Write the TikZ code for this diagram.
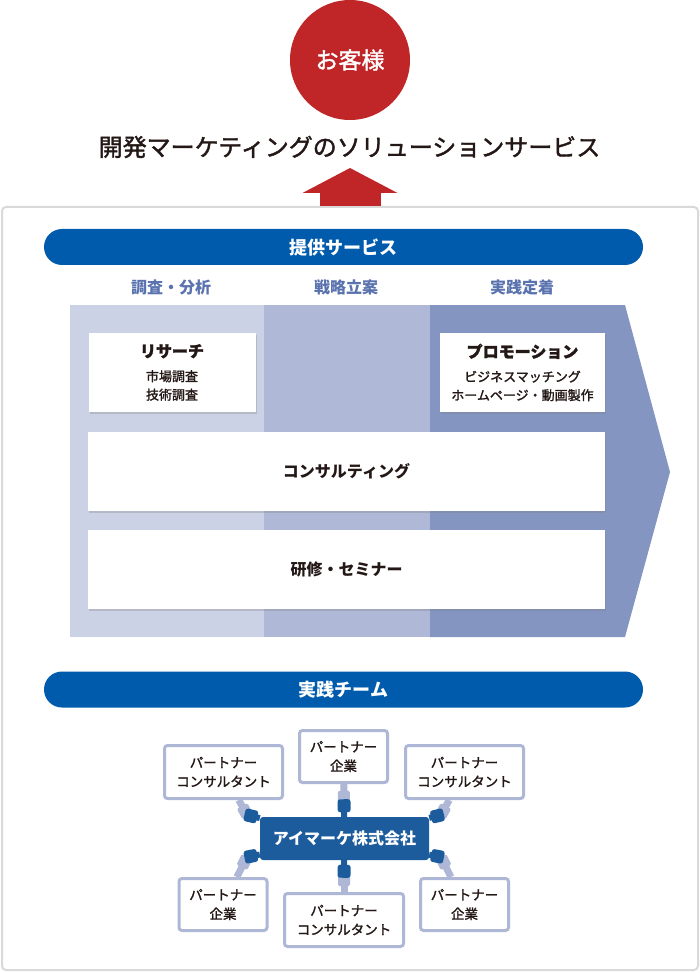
\documentclass[tikz,border=0pt]{standalone}
\usepackage{fontspec}
\setmainfont{Noto Sans CJK JP}
\newfontfamily\midfont{Noto Sans CJK JP}[FakeBold=1.6]
\usetikzlibrary{arrows.meta,shadows}

\definecolor{kyakuRed}{RGB}{192,37,39}
\definecolor{pillBlue}{RGB}{0,91,172}
\definecolor{headBlue}{RGB}{90,115,175}
\definecolor{phaseA}{RGB}{204,210,230}
\definecolor{phaseB}{RGB}{175,184,214}
\definecolor{phaseC}{RGB}{132,149,194}
\definecolor{hubBlue}{RGB}{29,92,156}
\definecolor{linkGray}{RGB}{174,183,214}
\definecolor{frameGray}{RGB}{217,217,217}
\definecolor{inkBlack}{RGB}{35,24,21}

\tikzset{
  pill/.style={rectangle, rounded corners=18pt, fill=pillBlue, text=white, minimum width=599pt, minimum height=36pt, font=\bfseries\fontsize{18}{20}\selectfont},
  phase/.style={text=headBlue, font=\bfseries\fontsize{16}{18}\selectfont},
  service/.style={rectangle, fill=white, align=center, text=inkBlack, drop shadow={shadow xshift=1.2pt, shadow yshift=-1.6pt, opacity=.3}, font=\midfont\fontsize{13}{18.5}\selectfont},
  partner/.style={rectangle, draw=linkGray, line width=3pt, rounded corners=3pt, fill=white, align=center, text=inkBlack, font=\midfont\fontsize{13.5}{19}\selectfont},
  lstem/.style={draw=linkGray, line width=7pt},
  bstem/.style={draw=hubBlue, line width=6pt},
  lplug/.style={rectangle, fill=linkGray, minimum size=12pt, inner sep=0pt, rounded corners=1.5pt},
  bplug/.style={rectangle, fill=hubBlue, minimum size=13pt, inner sep=0pt, rounded corners=2.5pt},
}

\begin{document}
\begin{tikzpicture}[x=1pt,y=-1pt]
    \useasboundingbox (0,0) rectangle (700,973);

    %Place customer node
    \node[circle, fill=kyakuRed, minimum size=120pt, inner sep=0pt, text=white, font=\midfont\fontsize{23}{25}\selectfont] (customer) at (350,60) {お客様};

    %Place title node
    \node[text=inkBlack, font=\midfont\fontsize{24}{26}\selectfont] (title) at (349.5,147) {開発マーケティングのソリューションサービス};

    %Place panel node
    \node[draw=frameGray, line width=2pt, rounded corners=4pt, fill=white, minimum width=696pt, minimum height=763pt] (panel) at (350,588.5) {};

    %Draw big arrow
    \coordinate (arrow-tip) at (350,168);
    \draw[-{Triangle[width=94pt,length=25pt]}, line width=61pt, draw=kyakuRed] (panel.north) -- (arrow-tip);

    %Place service bar node
    \node[pill] (service-bar) at (343.5,247) {提供サービス};

    %Place phase heading nodes
    \node[phase] (research-head) at (171,287) {調査・分析};
    \node[phase] (plan-head) at (346,287) {戦略立案};
    \node[phase] (practice-head) at (522,287) {実践定着};

    %Draw phase bands
    \fill[phaseA] (70,305) rectangle (264,637);
    \fill[phaseB] (264,305) rectangle (430,637);
    \fill[phaseC] (430,305) -- (625,305) -- (670,472) -- (625,637) -- (430,637) -- cycle;

    %Place research node
    \node[service, minimum width=167pt, minimum height=79pt] (research) at (172,372.5) {{\bfseries\fontsize{16}{18.5}\selectfont リサーチ}\\[5.5pt]市場調査\\技術調査};

    %Place promotion node
    \node[service, minimum width=165pt, minimum height=79pt] (promotion) at (522.5,372.5) {{\bfseries\fontsize{16}{18.5}\selectfont プロモーション}\\[5.5pt]ビジネスマッチング\\ホームページ・動画製作};

    %Place consulting node
    \node[service, minimum width=517pt, minimum height=79pt, font=\bfseries\fontsize{16}{18}\selectfont] (consulting) at (346.5,471.5) {コンサルティング};

    %Place seminar node
    \node[service, minimum width=517pt, minimum height=79pt, font=\bfseries\fontsize{16}{18}\selectfont] (seminar) at (346.5,569.5) {研修・セミナー};

    %Place team bar node
    \node[pill] (team-bar) at (343.5,689.5) {実践チーム};

    %Place hub node
    \node[rectangle, fill=hubBlue, rounded corners=3pt, minimum width=169pt, minimum height=43pt, text=white, font=\bfseries\fontsize{16}{18}\selectfont] (hub) at (344.5,838.5) {アイマーケ株式会社};

    %Place partner nodes
    \node[partner, minimum width=118pt, minimum height=53pt] (consultant-nw) at (223.5,772) {パートナー\\コンサルタント};
    \node[partner, minimum width=88pt, minimum height=52pt] (company-n) at (343.5,756.5) {パートナー\\企業};
    \node[partner, minimum width=118pt, minimum height=53pt] (consultant-ne) at (464.5,772) {パートナー\\コンサルタント};
    \node[partner, minimum width=88pt, minimum height=52pt] (company-sw) at (223,904.5) {パートナー\\企業};
    \node[partner, minimum width=119pt, minimum height=53pt] (consultant-s) at (344,920) {パートナー\\コンサルタント};
    \node[partner, minimum width=88pt, minimum height=52pt] (company-se) at (464.5,904.5) {パートナー\\企業};

    %Place joint coordinates
    \coordinate (joint-nw) at (247,815);
    \coordinate (joint-n) at (344,801);
    \coordinate (joint-ne) at (441,815);
    \coordinate (joint-sw) at (247,857);
    \coordinate (joint-s) at (344,876);
    \coordinate (joint-se) at (441,857);

    %Draw links
    \draw[lstem] (consultant-nw) -- (joint-nw) node[lplug, pos=.75, sloped] {};
    \draw[bstem] (joint-nw) -- (hub) node[bplug, pos=.3, sloped] {};
    \draw[lstem] (company-n) -- (joint-n) node[lplug, pos=.75, sloped] {};
    \draw[bstem] (joint-n) -- (hub) node[bplug, pos=.3, sloped] {};
    \draw[lstem] (consultant-ne) -- (joint-ne) node[lplug, pos=.75, sloped] {};
    \draw[bstem] (joint-ne) -- (hub) node[bplug, pos=.3, sloped] {};
    \draw[lstem] (company-sw) -- (joint-sw) node[lplug, pos=.75, sloped] {};
    \draw[bstem] (joint-sw) -- (hub) node[bplug, pos=.3, sloped] {};
    \draw[lstem] (consultant-s) -- (joint-s) node[lplug, pos=.75, sloped] {};
    \draw[bstem] (joint-s) -- (hub) node[bplug, pos=.3, sloped] {};
    \draw[lstem] (company-se) -- (joint-se) node[lplug, pos=.75, sloped] {};
    \draw[bstem] (joint-se) -- (hub) node[bplug, pos=.3, sloped] {};
\end{tikzpicture}
\end{document}
